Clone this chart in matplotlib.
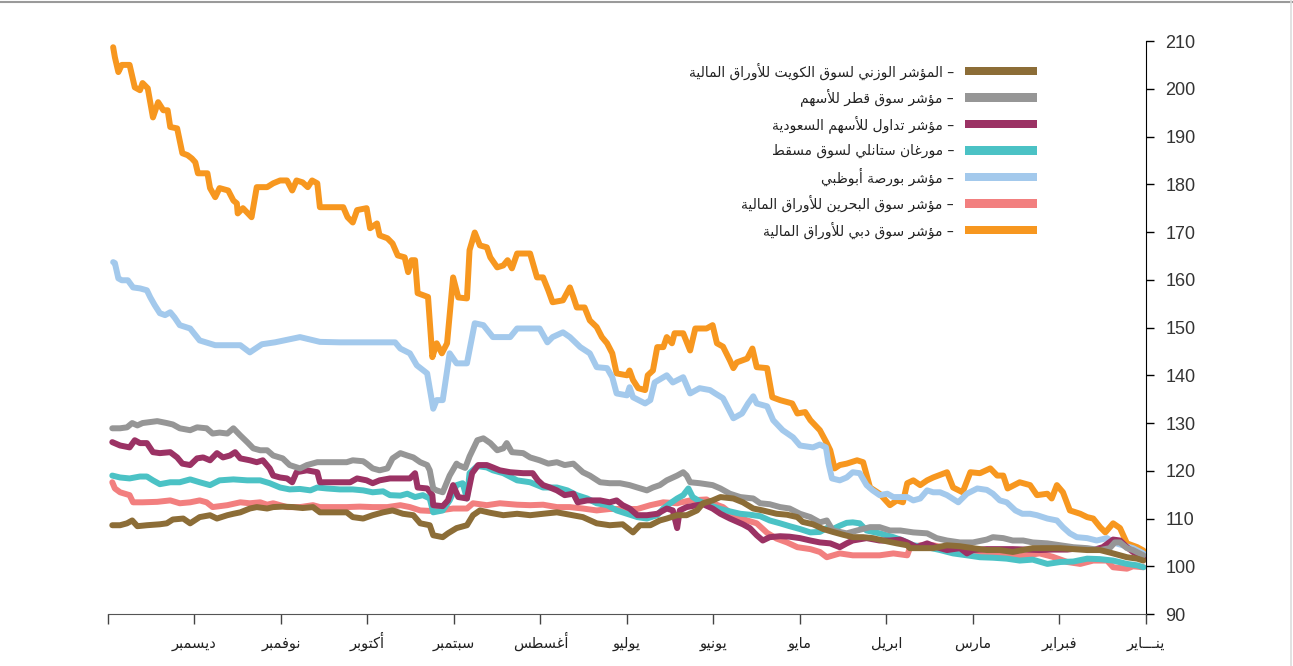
import matplotlib
matplotlib.use('Agg')
import matplotlib.pyplot as plt
from matplotlib.patches import Rectangle
from matplotlib.lines import Line2D

# ---- بيانات (x = عدد الأشهر منذ بداية يناير، المحور معكوس) ----
MONTHS = ['ينـــاير', 'فبراير', 'مارس', 'ابريل', 'مايو', 'يونيو', 'يوليو',
          'أغسطس', 'سبتمبر', 'أكتوبر', 'نوفمبر', 'ديسمبر', '']

DUBAI_X = [11.94, 11.92, 11.88, 11.84, 11.75, 11.69, 11.63, 11.60, 11.54, 11.48,
           11.42, 11.36, 11.31, 11.28, 11.20, 11.14, 11.08, 11.03, 10.99, 10.96,
           10.85, 10.82, 10.76, 10.71, 10.61, 10.55, 10.51, 10.50, 10.44, 10.34,
           10.28, 10.16, 10.09, 10.01, 9.93, 9.87, 9.82, 9.75, 9.69, 9.64,
           9.58, 9.55, 9.40, 9.28, 9.23, 9.17, 9.12, 9.01, 8.97, 8.89,
           8.86, 8.77, 8.71, 8.65, 8.57, 8.53, 8.49, 8.45, 8.42, 8.30,
           8.25, 8.20, 8.14, 8.08, 8.01, 7.95, 7.85, 7.82, 7.76, 7.70,
           7.62, 7.58, 7.50, 7.43, 7.38, 7.33, 7.27, 7.12, 7.04, 6.97,
           6.91, 6.86, 6.74, 6.66, 6.62, 6.58, 6.49, 6.43, 6.35, 6.29,
           6.23, 6.17, 6.12, 6.00, 5.97, 5.93, 5.87, 5.79, 5.76, 5.70,
           5.65, 5.58, 5.54, 5.48, 5.45, 5.35, 5.27, 5.21, 5.08, 5.01,
           4.96, 4.89, 4.81, 4.77, 4.73, 4.61, 4.55, 4.50, 4.38, 4.32,
           4.23, 4.09, 4.03, 3.94, 3.88, 3.77, 3.69, 3.65, 3.60, 3.54,
           3.46, 3.34, 3.27, 3.19, 3.08, 2.96, 2.88, 2.81, 2.76, 2.69,
           2.61, 2.53, 2.46, 2.30, 2.23, 2.12, 2.03, 1.92, 1.80, 1.72,
           1.65, 1.60, 1.46, 1.34, 1.26, 1.14, 1.09, 1.03, 0.96, 0.88,
           0.76, 0.68, 0.61, 0.53, 0.47, 0.38, 0.30, 0.22, 0.10, 0.03]
DUBAI = [208.7, 206.6, 203.5, 205.0, 205.0, 200.3, 199.7, 201.2, 200.1, 194.0,
         197.2, 195.5, 195.5, 192.0, 191.7, 186.5, 186.1, 185.4, 184.6, 182.3,
         182.3, 179.2, 177.3, 179.2, 178.7, 176.6, 176.0, 173.9, 175.0, 173.1,
         179.4, 179.4, 180.2, 180.8, 180.8, 178.7, 180.8, 180.4, 179.4, 180.8,
         180.2, 175.2, 175.2, 175.2, 173.1, 172.0, 174.6, 175.0, 170.8, 171.8,
         169.3, 168.7, 167.6, 165.1, 164.7, 161.6, 164.1, 164.1, 157.2, 156.4,
         143.8, 146.7, 144.6, 146.7, 160.5, 156.3, 156.1, 166.2, 169.9, 167.2,
         166.8, 164.7, 162.6, 163.0, 164.1, 162.4, 165.5, 165.5, 160.5, 160.5,
         157.8, 155.3, 155.7, 158.4, 156.4, 154.2, 154.2, 151.5, 150.1, 148.0,
         146.7, 144.6, 140.4, 140.0, 141.0, 139.0, 137.3, 136.9, 140.0, 141.0,
         145.9, 145.9, 148.0, 146.7, 148.8, 148.8, 145.2, 149.8, 149.8, 150.5,
         146.7, 146.0, 143.1, 141.5, 142.7, 143.5, 145.6, 141.7, 141.5, 135.4,
         134.8, 134.1, 132.0, 132.3, 130.6, 128.5, 125.8, 124.3, 120.5, 121.2,
         121.5, 122.2, 121.8, 116.5, 115.2, 112.8, 113.8, 113.4, 117.4, 118.0,
         117.0, 118.0, 118.6, 119.7, 116.5, 115.5, 119.7, 119.5, 120.5, 119.0,
         119.0, 116.3, 117.6, 117.0, 114.9, 115.2, 114.2, 117.0, 115.5, 111.7,
         111.0, 110.3, 110.0, 108.2, 107.1, 109.0, 108.0, 104.8, 104.0, 103.3]

ABUDHABI_X = [11.94, 11.92, 11.88, 11.84, 11.77, 11.71, 11.63, 11.55, 11.51, 11.46,
              11.40, 11.34, 11.28, 11.23, 11.17, 11.05, 10.94, 10.76, 10.47, 10.36,
              10.22, 10.07, 9.78, 9.55, 9.32, 8.97, 8.68, 8.62, 8.51, 8.43,
              8.31, 8.24, 8.20, 8.13, 8.05, 7.97, 7.85, 7.76, 7.66, 7.55,
              7.35, 7.27, 7.01, 6.92, 6.86, 6.74, 6.66, 6.54, 6.43, 6.35,
              6.23, 6.17, 6.12, 6.00, 5.97, 5.93, 5.79, 5.73, 5.68, 5.54,
              5.47, 5.35, 5.27, 5.16, 5.04, 4.98, 4.89, 4.77, 4.67, 4.60,
              4.54, 4.50, 4.38, 4.31, 4.20, 4.08, 4.00, 3.85, 3.77, 3.70,
              3.67, 3.63, 3.54, 3.46, 3.39, 3.31, 3.23, 3.16, 3.08, 2.99,
              2.92, 2.76, 2.69, 2.61, 2.53, 2.46, 2.38, 2.30, 2.17, 2.07,
              1.95, 1.84, 1.77, 1.69, 1.61, 1.51, 1.43, 1.34, 1.26, 1.14,
              1.03, 0.96, 0.88, 0.80, 0.68, 0.57, 0.45, 0.38, 0.27, 0.15,
              0.03]
ABUDHABI = [163.7, 163.5, 160.3, 159.9, 159.9, 158.4, 158.2, 157.8, 156.3, 154.7,
            153.0, 152.6, 153.2, 152.1, 150.5, 149.8, 147.3, 146.3, 146.3, 144.8,
            146.5, 146.9, 148.0, 147.0, 146.9, 146.9, 146.9, 145.6, 144.6, 142.1,
            140.4, 133.0, 134.8, 134.8, 144.6, 142.5, 142.5, 150.9, 150.5, 148.0,
            148.0, 149.8, 149.8, 146.9, 148.0, 149.0, 148.0, 145.9, 144.6, 141.7,
            141.5, 139.6, 136.2, 135.8, 137.5, 135.4, 134.1, 134.8, 138.5, 140.0,
            138.5, 139.6, 136.2, 137.3, 136.9, 136.2, 135.2, 131.0, 132.0, 134.1,
            135.6, 134.1, 133.5, 130.6, 128.5, 127.0, 125.3, 124.9, 125.5, 124.9,
            121.5, 118.4, 118.0, 118.6, 119.7, 119.5, 117.0, 115.9, 114.9, 115.2,
            114.5, 114.5, 113.8, 114.2, 115.9, 115.5, 115.5, 114.9, 113.4, 115.2,
            116.3, 116.0, 115.2, 113.8, 113.4, 111.7, 111.0, 111.0, 110.7, 110.0,
            109.6, 108.2, 106.9, 106.1, 105.9, 105.4, 105.9, 105.0, 104.4, 103.8,
            102.7]

QATAR_X = [11.95, 11.86, 11.78, 11.72, 11.66, 11.60, 11.43, 11.32, 11.25, 11.17,
           11.05, 10.97, 10.86, 10.79, 10.71, 10.62, 10.55, 10.47, 10.39, 10.32,
           10.24, 10.16, 10.09, 9.98, 9.90, 9.78, 9.70, 9.58, 9.40, 9.24,
           9.17, 9.05, 9.01, 8.94, 8.86, 8.77, 8.71, 8.62, 8.54, 8.47,
           8.39, 8.31, 8.28, 8.24, 8.20, 8.13, 8.05, 7.97, 7.95, 7.87,
           7.82, 7.73, 7.66, 7.58, 7.50, 7.43, 7.39, 7.33, 7.20, 7.12,
           7.01, 6.91, 6.81, 6.72, 6.62, 6.51, 6.43, 6.31, 6.20, 6.08,
           5.97, 5.88, 5.77, 5.70, 5.62, 5.54, 5.42, 5.35, 5.31, 5.27,
           5.16, 5.01, 4.92, 4.81, 4.69, 4.54, 4.46, 4.35, 4.23, 4.12,
           4.00, 3.88, 3.77, 3.69, 3.62, 3.46, 3.34, 3.19, 3.08, 2.96,
           2.84, 2.69, 2.53, 2.42, 2.30, 2.15, 2.00, 1.84, 1.77, 1.65,
           1.54, 1.42, 1.31, 1.14, 0.99, 0.84, 0.68, 0.53, 0.42, 0.36,
           0.30, 0.22, 0.15, 0.03]
QATAR = [128.9, 128.9, 129.1, 130.0, 129.5, 130.0, 130.4, 130.0, 129.7, 128.9,
         128.5, 129.1, 128.9, 127.8, 128.0, 127.8, 128.9, 127.4, 126.0, 124.7,
         124.3, 124.3, 123.2, 122.6, 121.2, 120.5, 121.2, 121.8, 121.8, 121.8,
         122.2, 122.0, 121.5, 120.5, 120.1, 120.5, 122.6, 123.7, 123.2, 122.8,
         121.8, 121.2, 120.1, 116.3, 115.9, 115.5, 119.0, 121.5, 121.2, 120.6,
         123.0, 126.4, 126.8, 125.8, 124.3, 124.7, 125.8, 123.9, 123.7, 122.8,
         122.2, 121.5, 121.8, 121.2, 121.5, 119.7, 119.0, 117.6, 117.4, 117.4,
         117.0, 116.5, 115.9, 116.5, 117.0, 118.0, 119.0, 119.7, 119.0, 117.6,
         117.4, 117.0, 116.3, 115.2, 114.5, 114.2, 113.2, 113.0, 112.4, 112.1,
         111.0, 110.3, 109.2, 109.6, 107.5, 106.9, 107.5, 108.2, 108.2, 107.5,
         107.5, 107.1, 106.9, 105.9, 105.4, 105.0, 105.0, 105.6, 106.1, 105.9,
         105.4, 105.4, 105.0, 104.8, 104.4, 104.0, 103.8, 103.4, 103.8, 105.0,
         105.0, 103.8, 103.4, 102.3]

SAUDI_X = [11.95, 11.86, 11.75, 11.69, 11.63, 11.55, 11.48, 11.40, 11.28, 11.20,
           11.14, 11.05, 10.97, 10.90, 10.82, 10.74, 10.67, 10.59, 10.53, 10.47,
           10.36, 10.28, 10.21, 10.13, 10.09, 10.01, 9.93, 9.87, 9.82, 9.70,
           9.58, 9.55, 9.40, 9.20, 9.12, 9.01, 8.94, 8.86, 8.74, 8.51,
           8.45, 8.42, 8.31, 8.25, 8.24, 8.13, 8.07, 8.01, 7.95, 7.85,
           7.79, 7.72, 7.62, 7.55, 7.47, 7.35, 7.20, 7.09, 7.03, 6.97,
           6.89, 6.81, 6.72, 6.62, 6.57, 6.46, 6.31, 6.20, 6.12, 6.05,
           5.97, 5.88, 5.77, 5.65, 5.54, 5.47, 5.42, 5.39, 5.31, 5.19,
           5.12, 5.01, 4.92, 4.81, 4.66, 4.58, 4.50, 4.43, 4.35, 4.23,
           4.12, 4.00, 3.88, 3.77, 3.65, 3.54, 3.46, 3.39, 3.23, 3.08,
           2.96, 2.84, 2.76, 2.65, 2.53, 2.42, 2.30, 2.15, 2.07, 2.00,
           1.84, 1.69, 1.54, 1.38, 1.23, 1.08, 0.91, 0.76, 0.61, 0.50,
           0.38, 0.30, 0.22, 0.15, 0.03]
SAUDI = [126.0, 125.3, 124.9, 126.4, 125.8, 125.8, 123.9, 123.7, 123.9, 122.8,
         121.5, 121.2, 122.6, 122.8, 122.2, 123.7, 122.8, 123.2, 123.9, 122.6,
         122.2, 121.8, 122.2, 120.5, 119.0, 118.6, 118.4, 117.6, 119.7, 120.1,
         119.7, 117.6, 117.6, 117.6, 118.4, 118.0, 117.4, 118.0, 118.4, 118.4,
         119.5, 116.5, 116.3, 114.9, 112.8, 112.6, 113.8, 117.0, 114.5, 114.2,
         119.5, 121.2, 121.2, 120.7, 120.1, 119.7, 119.5, 119.5, 118.0, 117.0,
         116.5, 115.9, 114.9, 115.2, 113.4, 113.8, 113.8, 113.4, 113.8, 112.8,
         112.1, 110.7, 110.7, 111.0, 112.1, 111.7, 108.0, 111.7, 112.4, 112.8,
         113.0, 112.1, 111.0, 110.0, 108.8, 108.0, 106.5, 105.4, 106.1, 106.3,
         106.2, 105.9, 105.4, 105.0, 104.8, 104.0, 104.8, 105.4, 105.9, 105.4,
         105.4, 105.6, 105.0, 104.0, 104.8, 104.0, 103.4, 103.8, 102.7, 103.4,
         103.6, 103.6, 103.6, 103.5, 103.4, 103.5, 103.5, 103.8, 103.4, 104.0,
         105.6, 105.4, 104.0, 103.0, 101.9]

MUSCAT_X = [11.95, 11.86, 11.75, 11.63, 11.55, 11.48, 11.40, 11.28, 11.17, 11.05,
            10.94, 10.82, 10.71, 10.55, 10.39, 10.24, 10.13, 10.01, 9.90, 9.78,
            9.66, 9.58, 9.47, 9.32, 9.17, 9.05, 8.94, 8.82, 8.74, 8.62,
            8.54, 8.45, 8.36, 8.28, 8.24, 8.13, 8.05, 7.97, 7.90, 7.85,
            7.82, 7.73, 7.62, 7.55, 7.43, 7.27, 7.12, 6.97, 6.81, 6.69,
            6.58, 6.46, 6.35, 6.23, 6.12, 6.00, 5.88, 5.77, 5.65, 5.58,
            5.50, 5.42, 5.35, 5.29, 5.24, 5.16, 5.04, 4.92, 4.81, 4.69,
            4.58, 4.46, 4.35, 4.23, 4.12, 4.00, 3.88, 3.77, 3.69, 3.62,
            3.54, 3.46, 3.39, 3.31, 3.23, 3.08, 2.92, 2.81, 2.69, 2.53,
            2.38, 2.23, 2.07, 1.92, 1.77, 1.61, 1.46, 1.31, 1.14, 0.99,
            0.84, 0.68, 0.53, 0.38, 0.22, 0.10, 0.03]
MUSCAT = [119.0, 118.6, 118.4, 118.8, 118.8, 118.0, 117.2, 117.6, 117.6, 118.2,
          117.6, 117.0, 118.0, 118.2, 118.0, 118.0, 117.4, 116.5, 116.1, 116.2,
          115.9, 116.5, 116.3, 116.1, 116.1, 115.9, 115.5, 115.7, 114.9, 114.8,
          115.2, 114.5, 114.9, 114.2, 111.3, 111.7, 113.8, 117.0, 117.4, 114.2,
          119.5, 121.0, 120.7, 120.1, 119.5, 118.0, 117.6, 116.5, 116.5, 115.9,
          114.9, 114.2, 113.2, 112.8, 111.7, 111.0, 110.3, 110.0, 110.7, 112.1,
          113.2, 114.2, 114.9, 116.3, 114.5, 113.6, 112.8, 112.0, 111.5, 111.0,
          110.8, 110.5, 109.6, 109.0, 108.4, 107.8, 107.1, 107.2, 108.0, 107.8,
          108.5, 109.1, 109.2, 109.0, 107.5, 106.9, 106.1, 105.4, 104.4, 104.0,
          103.4, 102.7, 102.3, 101.9, 101.8, 101.6, 101.2, 101.4, 100.5, 100.9,
          101.0, 101.6, 101.5, 101.2, 100.5, 100.2, 99.8]

BAHRAIN_X = [11.95, 11.92, 11.86, 11.75, 11.71, 11.60, 11.43, 11.28, 11.17, 11.05,
             10.94, 10.86, 10.79, 10.62, 10.47, 10.36, 10.24, 10.16, 10.09, 9.93,
             9.78, 9.63, 9.55, 9.40, 9.24, 9.09, 8.94, 8.77, 8.62, 8.51,
             8.39, 8.28, 8.16, 8.01, 7.85, 7.78, 7.62, 7.47, 7.27, 7.12,
             6.97, 6.81, 6.66, 6.51, 6.35, 6.20, 6.05, 5.88, 5.73, 5.58,
             5.42, 5.27, 5.08, 5.01, 4.89, 4.77, 4.61, 4.50, 4.38, 4.27,
             4.15, 4.03, 3.88, 3.77, 3.69, 3.54, 3.39, 3.23, 3.08, 2.92,
             2.76, 2.73, 2.61, 2.46, 2.30, 2.15, 2.00, 1.84, 1.69, 1.54,
             1.38, 1.23, 1.08, 0.91, 0.76, 0.61, 0.45, 0.38, 0.22, 0.15,
             0.03]
BAHRAIN = [117.6, 116.3, 115.5, 114.9, 113.4, 113.4, 113.5, 113.8, 113.2, 113.4,
           113.8, 113.4, 112.4, 112.8, 113.4, 113.2, 113.4, 112.9, 113.2, 112.4,
           112.4, 112.8, 112.4, 112.4, 112.4, 112.5, 112.4, 112.4, 112.8, 112.4,
           111.7, 111.6, 111.7, 112.1, 112.1, 113.2, 112.8, 113.2, 112.9, 112.8,
           112.9, 112.4, 112.4, 112.1, 111.7, 112.0, 112.0, 112.0, 112.8, 113.4,
           113.2, 113.8, 114.0, 113.2, 112.4, 110.7, 109.6, 109.0, 107.0, 105.8,
           105.0, 104.0, 103.6, 103.0, 101.9, 102.7, 102.3, 102.3, 102.3, 102.7,
           102.3, 103.8, 104.4, 104.4, 103.8, 103.4, 102.7, 102.3, 102.3, 101.9,
           102.3, 102.7, 102.0, 100.9, 100.5, 101.2, 101.2, 99.8, 99.5, 100.0,
           99.8]

KUWAIT_X = [11.95, 11.86, 11.78, 11.72, 11.66, 11.55, 11.40, 11.32, 11.25, 11.13,
            11.05, 10.94, 10.82, 10.74, 10.62, 10.55, 10.47, 10.36, 10.28, 10.16,
            10.09, 9.98, 9.86, 9.75, 9.63, 9.55, 9.40, 9.24, 9.17, 9.05,
            8.94, 8.82, 8.71, 8.59, 8.47, 8.39, 8.28, 8.24, 8.13, 8.07,
            7.97, 7.85, 7.78, 7.70, 7.58, 7.43, 7.27, 7.12, 6.97, 6.81,
            6.66, 6.51, 6.35, 6.20, 6.05, 5.93, 5.85, 5.73, 5.62, 5.54,
            5.42, 5.31, 5.19, 5.12, 5.01, 4.92, 4.77, 4.66, 4.54, 4.43,
            4.27, 4.15, 4.03, 3.97, 3.85, 3.73, 3.62, 3.50, 3.39, 3.27,
            3.16, 3.04, 2.88, 2.76, 2.73, 2.61, 2.46, 2.30, 2.15, 2.00,
            1.84, 1.69, 1.54, 1.31, 1.14, 0.99, 0.84, 0.68, 0.53, 0.38,
            0.22, 0.10, 0.03]
KUWAIT = [108.6, 108.6, 109.0, 109.6, 108.4, 108.6, 108.8, 109.0, 109.8, 110.0,
          109.0, 110.3, 110.7, 110.0, 110.7, 111.0, 111.3, 112.1, 112.4, 112.1,
          112.4, 112.5, 112.4, 112.2, 112.4, 111.3, 111.3, 111.3, 110.3, 110.0,
          110.7, 111.3, 111.7, 111.0, 110.7, 109.0, 108.6, 106.5, 106.1, 106.9,
          108.0, 108.6, 110.7, 111.7, 111.2, 110.7, 111.0, 110.7, 111.0, 111.3,
          110.8, 110.3, 109.0, 108.6, 108.8, 107.1, 108.6, 108.6, 109.6, 110.0,
          110.7, 110.7, 111.7, 113.2, 113.8, 114.5, 114.2, 113.4, 112.1, 111.7,
          111.0, 110.8, 110.3, 109.3, 108.8, 107.8, 107.2, 106.6, 106.1, 106.1,
          105.9, 105.4, 104.8, 104.4, 103.8, 103.8, 103.8, 104.4, 104.2, 103.8,
          103.4, 103.4, 103.0, 103.8, 103.8, 103.8, 103.6, 103.4, 103.4, 102.7,
          101.9, 101.6, 101.2]

LABELS = ['المؤشر الوزني لسوق الكويت للأوراق المالية',
          'مؤشر سوق قطر للأسهم',
          'مؤشر تداول للأسهم السعودية',
          'مورغان ستانلي لسوق مسقط',
          'مؤشر بورصة أبوظبي',
          'مؤشر سوق البحرين للأوراق المالية',
          'مؤشر سوق دبي للأوراق المالية']
COLORS = ['#8c6d37', '#969696', '#9b3264', '#4bc2c5', '#a3c9ec', '#f27f7f', '#f7971f']


# ---- تشكيل الحروف العربية (matplotlib لا يدعم الوصل ولا الاتجاه من اليمين) ----
DUAL = {'ئ': 0xFE89, 'ب': 0xFE8F, 'ت': 0xFE95, 'ث': 0xFE99, 'ج': 0xFE9D, 'ح': 0xFEA1,
        'خ': 0xFEA5, 'س': 0xFEB1, 'ش': 0xFEB5, 'ص': 0xFEB9, 'ض': 0xFEBD, 'ط': 0xFEC1,
        'ظ': 0xFEC5, 'ع': 0xFEC9, 'غ': 0xFECD, 'ف': 0xFED1, 'ق': 0xFED5, 'ك': 0xFED9,
        'ل': 0xFEDD, 'م': 0xFEE1, 'ن': 0xFEE5, 'ه': 0xFEE9, 'ي': 0xFEF1}
RIGHT = {'آ': 0xFE81, 'أ': 0xFE83, 'ؤ': 0xFE85, 'إ': 0xFE87, 'ا': 0xFE8D, 'ة': 0xFE93,
         'د': 0xFEA9, 'ذ': 0xFEAB, 'ر': 0xFEAD, 'ز': 0xFEAF, 'و': 0xFEED, 'ى': 0xFEEF}
LAM_ALEF = {'آ': 0xFEF5, 'أ': 0xFEF7, 'إ': 0xFEF9, 'ا': 0xFEFB}
TATWEEL = 'ـ'


def ar(text):
    items = []
    i = 0
    while i < len(text):
        c = text[i]
        if c == 'ل' and i + 1 < len(text) and text[i + 1] in LAM_ALEF:
            items.append(('la', text[i + 1]))
            i += 2
        else:
            items.append(('ch', c))
            i += 1
    out = []
    for k, (kind, c) in enumerate(items):
        prev = items[k - 1] if k > 0 else None
        nxt = items[k + 1] if k + 1 < len(items) else None
        p = prev is not None and prev[0] == 'ch' and (prev[1] in DUAL or prev[1] == TATWEEL)
        if kind == 'la':
            out.append(chr(LAM_ALEF[c] + (1 if p else 0)))
            continue
        n = nxt is not None and (nxt[0] == 'la' or nxt[1] in DUAL
                                 or nxt[1] in RIGHT or nxt[1] == TATWEEL)
        if c in DUAL:
            base = DUAL[c]
            if p and n:
                out.append(chr(base + 3))
            elif p:
                out.append(chr(base + 1))
            elif n:
                out.append(chr(base + 2))
            else:
                out.append(chr(base))
        elif c in RIGHT:
            out.append(chr(RIGHT[c] + (1 if p else 0)))
        else:
            out.append(c)
    return ''.join(reversed(out))


plt.rcParams['font.family'] = ['DejaVu Sans']

fig = plt.figure(figsize=(12.93, 6.66), dpi=100)
ax = fig.add_axes([0.0835, 0.078, 0.8028, 0.8604])

series = [(DUBAI_X, DUBAI), (BAHRAIN_X, BAHRAIN), (ABUDHABI_X, ABUDHABI),
          (MUSCAT_X, MUSCAT), (SAUDI_X, SAUDI), (QATAR_X, QATAR), (KUWAIT_X, KUWAIT)]
series_colors = [COLORS[6], COLORS[5], COLORS[4], COLORS[3], COLORS[2], COLORS[1], COLORS[0]]
for (xs, ys), col in zip(series, series_colors):
    ax.plot(xs, ys, color=col, lw=4.3, solid_joinstyle='round', solid_capstyle='round')

ax.set_xlim(12, 0)
ax.set_ylim(90, 210)
ax.set_xticks(range(13))
ax.set_xticklabels([ar(m) for m in MONTHS], fontsize=10.5, color='#222222')
for lab in ax.get_xticklabels():
    lab.set_va('baseline')
ax.set_yticks(range(90, 211, 10))
ax.yaxis.tick_right()
ax.tick_params(axis='y', direction='out', length=6, width=1, pad=8,
               labelsize=13, labelcolor='#333333')
ax.tick_params(axis='x', direction='out', length=7, width=1, pad=17, color='#444444')
for lab in ax.get_yticklabels():
    lab.set_family(['Liberation Sans', 'DejaVu Sans'])

ax.spines['top'].set_visible(False)
ax.spines['left'].set_visible(False)
ax.spines['right'].set_color('black')
ax.spines['bottom'].set_color('#555555')

# ---- وسيلة الإيضاح ----
row_y = 1 - 71 / 666
step = 26.5 / 666
for k, (lab, col) in enumerate(zip(LABELS, COLORS)):
    y = row_y - k * step
    fig.text(0.7378, y, ar(lab) + ' –', ha='right', va='center',
             fontsize=10, color='#222222')
    fig.add_artist(Rectangle((0.7463, y - 0.0062), 0.0557, 0.0124,
                             transform=fig.transFigure, color=col, lw=0))

# إطار الصورة
fig.add_artist(Line2D([0, 1], [0.997, 0.997], transform=fig.transFigure,
                      color='#9a9a9a', lw=1.5))
fig.add_artist(Line2D([0.9985, 0.9985], [0, 1], transform=fig.transFigure,
                      color='#dddddd', lw=1.2))

fig.savefig('out.png', dpi=100)
